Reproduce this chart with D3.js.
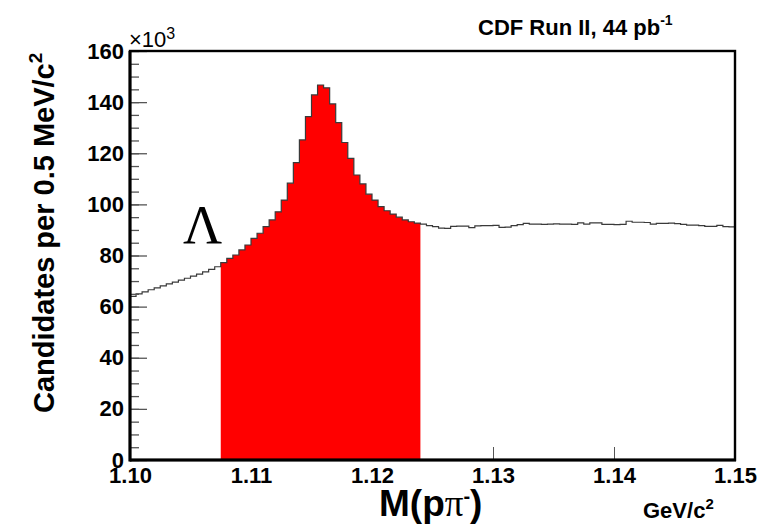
<!DOCTYPE html>
<html>
<head>
<meta charset="utf-8">
<script src="https://cdn.jsdelivr.net/npm/d3@7"></script>
<style>
  body { margin: 0; background: #fff; }
  text { font-family: "Liberation Sans", Arial, Helvetica, sans-serif; }
</style>
</head>
<body>
<svg id="chart"></svg>
<script>
// histogram of M(p pi-), 100 bins of 0.5 MeV from 1.10 to 1.15 GeV, counts in units of 10^3
var xMin = 1.10, xMax = 1.15, binWidth = 0.0005;
var counts = [
  64.0, 65.0, 65.8, 66.6, 67.3, 68.1, 68.9, 69.6, 70.4, 71.1,
  71.9, 72.7, 73.6, 74.6, 75.6, 77.2, 78.9, 80.2, 82.2, 84.1,
  86.7, 88.7, 91.3, 93.9, 97.1, 101.7, 108.3, 116.3, 125.2, 134.3,
  142.8, 146.7, 145.6, 139.3, 132.0, 124.2, 118.0, 111.5, 108.0, 104.0,
  101.7, 99.1, 97.5, 96.2, 95.0, 93.9, 93.2, 92.7, 92.3, 91.7,
  91.3, 90.7, 90.6, 91.4, 91.5, 91.5, 90.9, 91.6, 91.7, 91.7,
  91.8, 91.0, 91.1, 91.7, 92.1, 92.6, 92.3, 92.3, 92.2, 92.3,
  92.4, 92.3, 92.3, 92.2, 92.8, 92.3, 92.8, 92.8, 92.2, 92.2,
  92.1, 92.2, 93.4, 93.0, 93.0, 92.9, 92.3, 92.6, 92.6, 92.7,
  92.5, 92.2, 91.9, 91.9, 91.7, 91.4, 91.4, 91.8, 91.3, 91.2
];
// signal window drawn in red
var signalWindow = [1.1075, 1.124];
var xTicks = [1.10, 1.11, 1.12, 1.13, 1.14, 1.15];
var yTicks = [0, 20, 40, 60, 80, 100, 120, 140, 160];

var width = 775, height = 526;
var plotLeft = 130, plotRight = 735, plotTop = 51, plotBottom = 460;

var svg = d3.select("#chart").attr("width", width).attr("height", height);

var x = d3.scaleLinear().domain([xMin, xMax]).range([plotLeft, plotRight]);
var y = d3.scaleLinear().domain([0, 160]).range([plotBottom, plotTop]);

// bin points: left edge of each bin, plus closing point at xMax
var bins = counts.map(function(c, i) {
  return { x: xMin + i * binWidth, v: c };
});
var pts = bins.concat([{ x: xMax, v: counts[counts.length - 1] }]);

// x ticks (drawn below the histogram, the fill hides them)
svg.append("g")
  .attr("class", "xaxis")
  .attr("transform", "translate(0," + plotBottom + ")")
  .call(d3.axisBottom(x).tickValues(xTicks).tickSize(-13).tickPadding(7)
    .tickFormat(d3.format(".2f")))
  .call(function(g) {
    g.select(".domain").remove();
    g.selectAll("line").attr("stroke", "#555").attr("stroke-width", 1);
    g.selectAll("text").attr("fill", "#000").style("font-size", "22px")
      .style("font-weight", "bold");
  });

// red signal region
var sig = bins.filter(function(d) {
  return d.x >= signalWindow[0] - 1e-9 && d.x < signalWindow[1] - 1e-9;
});
sig.push({ x: signalWindow[1], v: sig[sig.length - 1].v });

svg.append("path")
  .datum(sig)
  .attr("fill", "#ff0000")
  .attr("d", d3.area()
    .curve(d3.curveStepAfter)
    .x(function(d) { return x(d.x); })
    .y0(y(0))
    .y1(function(d) { return y(d.v); }));

// histogram outline
svg.append("path")
  .datum(pts)
  .attr("fill", "none")
  .attr("stroke", "#3a3a3a")
  .attr("stroke-width", 1.2)
  .attr("d", d3.line()
    .curve(d3.curveStepAfter)
    .x(function(d) { return x(d.x); })
    .y(function(d) { return y(d.v); }));

// y minor ticks
svg.append("g")
  .attr("transform", "translate(" + plotLeft + ",0)")
  .call(d3.axisLeft(y).tickValues(d3.range(0, 161, 5)).tickSize(-9).tickFormat(""))
  .call(function(g) {
    g.select(".domain").remove();
    g.selectAll("line").attr("stroke", "#555").attr("stroke-width", 1.3);
  });

// y major ticks + labels
svg.append("g")
  .attr("transform", "translate(" + plotLeft + ",0)")
  .call(d3.axisLeft(y).tickValues(yTicks).tickSize(-17).tickPadding(6))
  .call(function(g) {
    g.select(".domain").remove();
    g.selectAll("line").attr("stroke", "#555").attr("stroke-width", 1.3);
    g.selectAll("text").attr("fill", "#000").style("font-size", "22px")
      .style("font-weight", "bold");
  });

// frame
svg.append("rect")
  .attr("x", plotLeft).attr("y", plotTop)
  .attr("width", plotRight - plotLeft).attr("height", plotBottom - plotTop)
  .attr("fill", "none").attr("stroke", "#000").attr("stroke-width", 2.4);
svg.append("line")
  .attr("x1", plotLeft).attr("x2", plotLeft).attr("y1", plotTop).attr("y2", plotBottom + 1.5)
  .attr("stroke", "#000").attr("stroke-width", 3);
svg.append("line")
  .attr("x1", plotLeft).attr("x2", plotRight + 1).attr("y1", plotBottom).attr("y2", plotBottom)
  .attr("stroke", "#000").attr("stroke-width", 3);

// x10^3 multiplier
var mult = svg.append("text").attr("x", plotLeft - 1).attr("y", 47)
  .style("font-size", "22px");
mult.append("tspan").text("\u00d710");
mult.append("tspan").attr("dy", -8).style("font-size", "16px").text("3");

// top label
var ttl = svg.append("text").attr("x", 478).attr("y", 35)
  .style("font-size", "22px").style("font-weight", "bold");
ttl.append("tspan").text("CDF Run II, 44 pb");
ttl.append("tspan").attr("dy", -10).style("font-size", "14px").text("-1");

// y axis title
var yt = svg.append("text")
  .attr("transform", "translate(54,413) rotate(-90)")
  .style("font-size", "29px").style("font-weight", "bold");
yt.append("tspan").text("Candidates per 0.5 MeV/c");
yt.append("tspan").attr("dy", -12).style("font-size", "19px").text("2");

// x axis title
var xt = svg.append("text").attr("x", 379).attr("y", 516)
  .style("font-size", "37px").style("font-weight", "bold");
xt.append("tspan").text("M(p");
xt.append("tspan").style("font-family", "'Liberation Serif', 'Times New Roman', serif")
  .style("font-weight", "normal").text("\u03c0");
xt.append("tspan").attr("dy", -13).style("font-size", "20px").text("-");
xt.append("tspan").attr("dy", 13).text(")");

// units
var un = svg.append("text").attr("x", 643).attr("y", 518)
  .style("font-size", "22px").style("font-weight", "bold");
un.append("tspan").text("GeV/c");
un.append("tspan").attr("dy", -9).style("font-size", "15px").text("2");

// Lambda label
svg.append("text").attr("x", 183).attr("y", 243)
  .style("font-family", "'Liberation Serif', 'Times New Roman', serif")
  .style("font-size", "54px").text("\u039b");
</script>
</body>
</html>
